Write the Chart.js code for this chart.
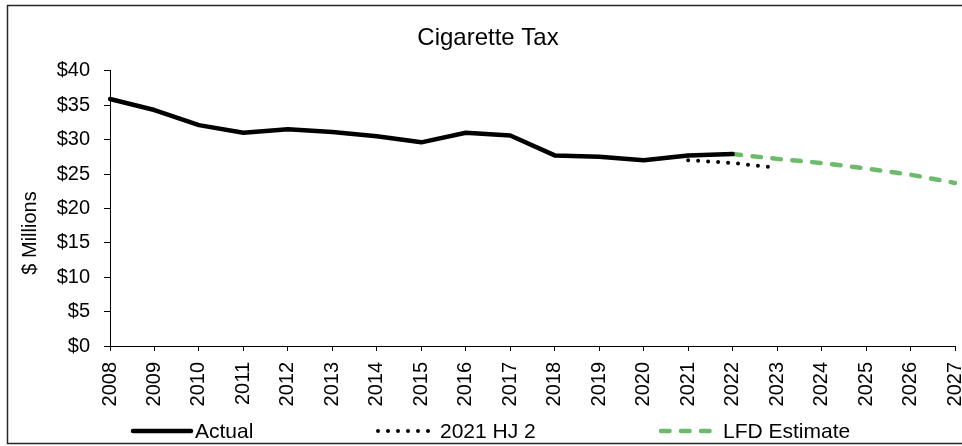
<!DOCTYPE html>
<html>
<head>
<meta charset="utf-8">
<script src="https://cdn.jsdelivr.net/npm/chart.js@4.4.1/dist/chart.umd.min.js"></script>
<style>
html,body{margin:0;padding:0;background:#fff;overflow:hidden;width:962px;height:446px}
#wrap{position:absolute;left:0;top:0;width:962px;height:446px}
</style>
</head>
<body>
<div id="wrap"><canvas id="c"></canvas></div>
<script>
// ---- data ----
const years = ['2008','2009','2010','2011','2012','2013','2014','2015','2016','2017',
               '2018','2019','2020','2021','2022','2023','2024','2025','2026','2027'];
const actual = [35.9,34.3,32.1,31.0,31.5,31.1,30.5,29.6,31.0,30.6,27.7,27.5,27.0,27.7,27.9,
                null,null,null,null,null];
const hj2 = [null,null,null,null,null,null,null,null,null,null,null,null,null,
             27.0,26.6,25.9,null,null,null,null];
const lfd = [null,null,null,null,null,null,null,null,null,null,null,null,null,null,
             27.9,27.2,26.6,25.8,24.9,23.7];
const yTickValues = [0,5,10,15,20,25,30,35,40];
const seriesNames = ['Actual','2021 HJ 2','LFD Estimate'];
const chartTitle = 'Cigarette Tax';
const yTitle = '$ Millions';

const FONT = '"Liberation Sans", Arial, Helvetica, sans-serif';
Chart.defaults.font.family = FONT;
Chart.defaults.color = '#000';

const chrome = {
  id: 'chrome',
  afterDraw(chart) {
    const ctx = chart.ctx;
    ctx.save();
    // outer frame
    ctx.strokeStyle = '#262626';
    ctx.lineWidth = 1.5;
    ctx.setLineDash([]);
    ctx.beginPath();
    ctx.moveTo(chart.width + 5, 5.5);
    ctx.lineTo(7.5, 5.5);
    ctx.lineTo(7.5, 443.5);
    ctx.lineTo(chart.width + 5, 443.5);
    ctx.stroke();
    // y axis title
    ctx.save();
    ctx.translate(30, 233);
    ctx.rotate(-Math.PI / 2);
    ctx.fillStyle = '#000';
    ctx.font = '20px ' + FONT;
    ctx.textAlign = 'center';
    ctx.textBaseline = 'middle';
    ctx.fillText(yTitle, 0, 0);
    ctx.restore();
    // legend
    const pos = [[133, 191, 195], [378, 430, 440], [661, 710, 723]];
    chart.data.datasets.forEach((ds, i) => {
      const [x0, x1, tx] = pos[i];
      ctx.save();
      ctx.strokeStyle = ds.borderColor;
      ctx.lineWidth = ds.borderWidth;
      ctx.setLineDash(ds.borderDash || []);
      ctx.lineCap = ds.borderCapStyle || 'butt';
      ctx.beginPath();
      ctx.moveTo(x0, 431);
      ctx.lineTo(x1, 431);
      ctx.stroke();
      ctx.restore();
      ctx.fillStyle = '#000';
      ctx.font = '21px ' + FONT;
      ctx.textAlign = 'left';
      ctx.textBaseline = 'middle';
      ctx.fillText(ds.label, tx, 432);
    });
    ctx.restore();
  }
};

new Chart(document.getElementById('c'), {
  type: 'line',
  data: {
    labels: years,
    datasets: [
      { label: seriesNames[0], data: actual, borderColor: '#000000', borderWidth: 4.5,
        borderCapStyle: 'round', borderJoinStyle: 'round', pointRadius: 0, tension: 0 },
      { label: seriesNames[1], data: hj2, borderColor: '#000000', borderWidth: 4,
        borderDash: [0, 10], borderCapStyle: 'round', pointRadius: 0, tension: 0 },
      { label: seriesNames[2], data: lfd, borderColor: '#6bbb6b', borderWidth: 4.5,
        borderDash: [8.5, 11.5], borderCapStyle: 'round', pointRadius: 0, tension: 0 }
    ]
  },
  options: {
    responsive: true,
    maintainAspectRatio: false,
    animation: false,
    events: [],
    layout: { padding: { left: 21, right: 7, top: 0, bottom: 40 } },
    plugins: {
      legend: { display: false },
      tooltip: { enabled: false },
      title: {
        display: true, text: chartTitle, color: '#000',
        font: { size: 24, weight: 'normal', family: FONT },
        padding: { top: 24, bottom: 18 }
      }
    },
    scales: {
      x: {
        type: 'category',
        offset: false,
        grid: { display: true, drawOnChartArea: false, drawTicks: true, tickLength: 5, color: '#000', lineWidth: 1 },
        border: { display: true, color: '#000', width: 1 },
        ticks: { autoSkip: false, maxRotation: 90, minRotation: 90, padding: 11,
                 font: { size: 20 }, color: '#000' },
        afterFit(s) { s.height = 60; s.paddingLeft = 0; s.paddingRight = 0; }
      },
      y: {
        min: 0, max: 40,
        afterBuildTicks(s) { s.ticks = yTickValues.map(v => ({ value: v })); },
        grid: { display: true, drawOnChartArea: false, drawTicks: true, tickLength: 6, color: '#000', lineWidth: 1 },
        border: { display: true, color: '#000', width: 1 },
        ticks: { padding: 14, font: { size: 20 }, color: '#000', callback: v => '$' + v },
        afterFit(s) { s.width = 89; }
      }
    }
  },
  plugins: [chrome]
});
</script>
</body>
</html>
